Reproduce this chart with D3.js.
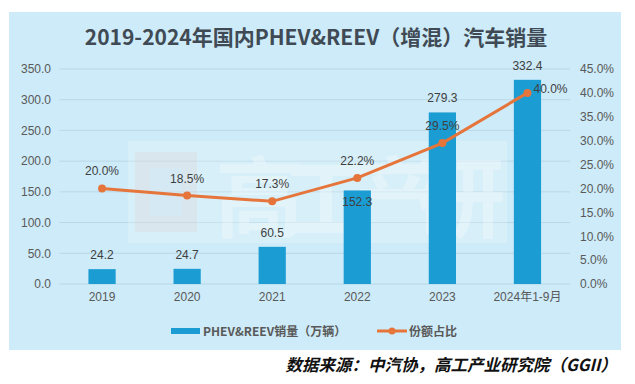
<!DOCTYPE html>
<html><head><meta charset="utf-8">
<script src="https://cdn.jsdelivr.net/npm/d3@7"></script>
<style>
html,body{margin:0;padding:0;background:#fff;}
svg{display:block;}
</style></head>
<body>
<svg id="c" width="635" height="384"></svg>
<script>
const categories = ["2019","2020","2021","2022","2023","2024年1-9月"];
const sales = [24.2, 24.7, 60.5, 152.3, 279.3, 332.4];
const share = [20.0, 18.5, 17.3, 22.2, 29.5, 40.0];
const leftTicks = [0,50,100,150,200,250,300,350];
const rightTicks = [0,5,10,15,20,25,30,35,40,45];
const title = "2019-2024年国内PHEV&REEV（增混）汽车销量";
const legendLabels = ["PHEV&REEV销量（万辆）","份额占比"];
const sourceText = "数据来源：中汽协，高工产业研究院（GGII）";

const svg = d3.select("#c");
const barColor = "#1B9DD4", lineColor = "#E5753A", textColor = "#595959";
const font = "'Liberation Sans', Arial, 'Noto Sans CJK SC', sans-serif";
const cjk = "'Noto Sans CJK SC', 'Liberation Sans', sans-serif";

// panel
svg.append("rect").attr("x",9).attr("y",12).attr("width",612).attr("height",338).attr("fill","#CDEBF8");

const x = d3.scaleBand().domain(categories).range([59.5,570]).paddingInner(0.68).paddingOuter(0.34);
const yL = d3.scaleLinear().domain([0,350]).range([284,69]);
const yR = d3.scaleLinear().domain([0,45]).range([284,69]);

// gridlines
svg.append("g").selectAll("line").data(leftTicks).join("line")
  .attr("x1",59.5).attr("x2",570).attr("y1",d=>yL(d)).attr("y2",d=>yL(d))
  .attr("stroke","#B8D8E8").attr("stroke-width",1);

// watermark
const wm = svg.append("g");
wm.append("rect").attr("x",128).attr("y",141).attr("width",379).attr("height",102).attr("fill","#ffffff").attr("opacity",0.2);
wm.append("rect").attr("x",135).attr("y",152).attr("width",62).attr("height",80).attr("fill","#E9B5AE").attr("opacity",0.15);
wm.append("rect").attr("x",150).attr("y",168).attr("width",32).attr("height",48).attr("fill","#CDEBF8").attr("opacity",0.5);
wm.append("text").attr("x",215).attr("y",230).attr("font-family",cjk).attr("font-weight","bold")
  .attr("font-size",88).attr("fill","#ffffff").attr("opacity",0.3).attr("textLength",290).text("高工产研");

// axes
const axL = d3.axisLeft(yL).tickValues(leftTicks).tickFormat(d3.format(".1f")).tickSize(0).tickPadding(0);
const gL = svg.append("g").attr("transform","translate(51,0)").call(axL);
gL.select(".domain").remove();
gL.selectAll("text").attr("font-family",font).attr("font-size",12).attr("fill",textColor);

const axR = d3.axisRight(yR).tickValues(rightTicks).tickFormat(d=>d3.format(".1f")(d)+"%").tickSize(0).tickPadding(0);
const gR = svg.append("g").attr("transform","translate(580,0)").call(axR);
gR.select(".domain").remove();
gR.selectAll("text").attr("font-family",font).attr("font-size",12).attr("fill",textColor);

const axB = d3.axisBottom(x).tickSize(0).tickPadding(0);
const gB = svg.append("g").attr("transform","translate(0,292)").call(axB);
gB.select(".domain").remove();
gB.selectAll("text").attr("font-family",font).attr("font-size",12).attr("fill",textColor).attr("dy","0.71em");

// bars
svg.append("g").selectAll("rect").data(sales).join("rect")
  .attr("x",(d,i)=>x(categories[i])).attr("width",x.bandwidth())
  .attr("y",d=>yL(d)).attr("height",d=>yL(0)-yL(d)).attr("fill",barColor);

// line
const pts = share.map((d,i)=>[x(categories[i])+x.bandwidth()/2, yR(d)]);
svg.append("path").attr("d",d3.line()(pts)).attr("fill","none").attr("stroke",lineColor).attr("stroke-width",3);
svg.append("g").selectAll("circle").data(pts).join("circle")
  .attr("cx",d=>d[0]).attr("cy",d=>d[1]).attr("r",4).attr("fill",lineColor);

// bar labels
svg.append("g").selectAll("text").data(sales).join("text")
  .attr("x",(d,i)=>x(categories[i])+x.bandwidth()/2)
  .attr("y",(d,i)=> i===3 ? yL(d)+16 : yL(d)-10)
  .attr("text-anchor","middle").attr("font-family",font).attr("font-size",12).attr("fill","#404040")
  .text(d=>d3.format(".1f")(d));

// share labels
svg.append("g").selectAll("text").data(share).join("text")
  .attr("x",(d,i)=> i===share.length-1 ? pts[i][0]+6 : pts[i][0])
  .attr("y",(d,i)=> i===share.length-1 ? pts[i][1]+0 : pts[i][1]-13)
  .attr("text-anchor",(d,i)=> i===share.length-1 ? "start" : "middle")
  .attr("font-family",font).attr("font-size",12).attr("fill","#404040")
  .text(d=>d3.format(".1f")(d)+"%");

// title
svg.append("text").attr("x",316).attr("y",45).attr("text-anchor","middle")
  .attr("font-family",cjk).attr("font-weight","bold").attr("font-size",21).attr("fill","#404A55").text(title);

// legend
const lg = svg.append("g");
lg.append("rect").attr("x",171).attr("y",328).attr("width",29).attr("height",6).attr("fill",barColor);
lg.append("text").attr("x",203).attr("y",335.5).attr("font-family",cjk).attr("font-weight","bold").attr("font-size",12).attr("fill",textColor).text(legendLabels[0]);
lg.append("line").attr("x1",377).attr("x2",407).attr("y1",331).attr("y2",331).attr("stroke",lineColor).attr("stroke-width",3);
lg.append("circle").attr("cx",392).attr("cy",331).attr("r",3.5).attr("fill",lineColor);
lg.append("text").attr("x",409).attr("y",335.5).attr("font-family",cjk).attr("font-weight","bold").attr("font-size",12).attr("fill",textColor).text(legendLabels[1]);

// source
svg.append("text").attr("x",617).attr("y",371).attr("text-anchor","end")
  .attr("font-family",cjk).attr("font-weight","bold").attr("font-style","italic").attr("font-size",16.5).attr("fill","#111").text(sourceText);
</script>
</body></html>
